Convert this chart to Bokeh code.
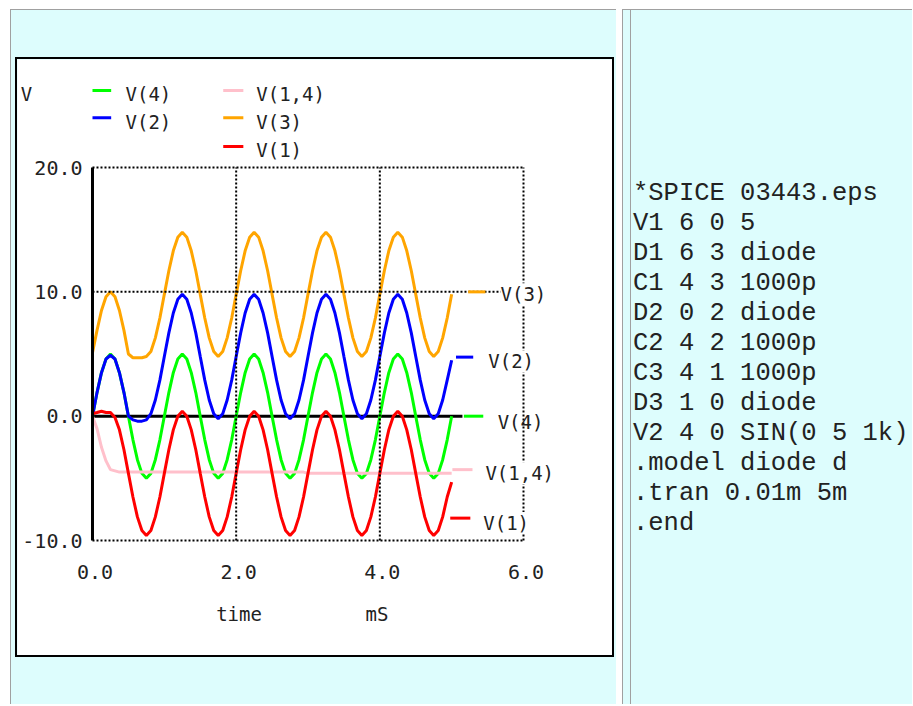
from bokeh.plotting import figure
from bokeh.models import Range1d, Label, Div
from bokeh.layouts import row, column
from bokeh.core.properties import value
from bokeh.embed import file_html
from bokeh.resources import INLINE

# ---------------- data ----------------
t_ms = [
    0.000, 0.063, 0.125, 0.188, 0.250, 0.313, 0.375, 0.438, 0.500, 0.563, 0.625, 0.688, 0.750, 0.813, 0.875, 0.938,
    1.000, 1.063, 1.125, 1.188, 1.250, 1.313, 1.375, 1.438, 1.500, 1.563, 1.625, 1.688, 1.750, 1.813, 1.875, 1.938,
    2.000, 2.063, 2.125, 2.188, 2.250, 2.313, 2.375, 2.438, 2.500, 2.563, 2.625, 2.688, 2.750, 2.813, 2.875, 2.938,
    3.000, 3.063, 3.125, 3.188, 3.250, 3.313, 3.375, 3.438, 3.500, 3.563, 3.625, 3.688, 3.750, 3.813, 3.875, 3.938,
    4.000, 4.063, 4.125, 4.188, 4.250, 4.313, 4.375, 4.438, 4.500, 4.563, 4.625, 4.688, 4.750, 4.813, 4.875, 4.938,
    5.000,
]

v4 = [
    0.0, 1.9, 3.5, 4.6, 5.0, 4.6, 3.5, 1.9, 0.0, -1.9, -3.5, -4.6, -5.0, -4.6, -3.5, -1.9,
    0.0, 1.9, 3.5, 4.6, 5.0, 4.6, 3.5, 1.9, 0.0, -1.9, -3.5, -4.6, -5.0, -4.6, -3.5, -1.9,
    0.0, 1.9, 3.5, 4.6, 5.0, 4.6, 3.5, 1.9, 0.0, -1.9, -3.5, -4.6, -5.0, -4.6, -3.5, -1.9,
    0.0, 1.9, 3.5, 4.6, 5.0, 4.6, 3.5, 1.9, 0.0, -1.9, -3.5, -4.6, -5.0, -4.6, -3.5, -1.9,
    0.0, 1.9, 3.5, 4.6, 5.0, 4.6, 3.5, 1.9, 0.0, -1.9, -3.5, -4.6, -5.0, -4.6, -3.5, -1.9,
    0.0,
]

v2 = [
    0.0, 1.9, 3.5, 4.6, 4.9, 4.6, 3.5, 1.9, 0.0, -0.3, -0.4, -0.4, -0.3, 0.2, 1.3, 2.9,
    4.8, 6.7, 8.3, 9.4, 9.8, 9.4, 8.3, 6.7, 4.8, 2.9, 1.3, 0.2, -0.2, 0.2, 1.3, 2.9,
    4.8, 6.7, 8.3, 9.4, 9.8, 9.4, 8.3, 6.7, 4.8, 2.9, 1.3, 0.2, -0.2, 0.2, 1.3, 2.9,
    4.8, 6.7, 8.3, 9.4, 9.8, 9.4, 8.3, 6.7, 4.8, 2.9, 1.3, 0.2, -0.2, 0.2, 1.3, 2.9,
    4.8, 6.7, 8.3, 9.4, 9.8, 9.4, 8.3, 6.7, 4.8, 2.9, 1.3, 0.2, -0.2, 0.2, 1.3, 2.9,
    4.5,
]

v14 = [
    0.0, -1.0, -2.5, -3.6, -4.3, -4.4, -4.5, -4.5, -4.5, -4.5, -4.5, -4.5, -4.5, -4.5, -4.5, -4.5,
    -4.5, -4.5, -4.5, -4.5, -4.5, -4.5, -4.5, -4.5, -4.5, -4.5, -4.5, -4.5, -4.5, -4.5, -4.5, -4.5,
    -4.5, -4.5, -4.5, -4.5, -4.5, -4.5, -4.5, -4.5, -4.5, -4.5, -4.5, -4.5, -4.5, -4.5, -4.5, -4.5,
    -4.6, -4.6, -4.6, -4.6, -4.6, -4.6, -4.6, -4.6, -4.6, -4.6, -4.6, -4.6, -4.6, -4.6, -4.6, -4.6,
    -4.6, -4.6, -4.6, -4.6, -4.6, -4.6, -4.6, -4.6, -4.6, -4.6, -4.6, -4.6, -4.6, -4.6, -4.6, -4.6,
    -4.6,
]

v3 = [
    5.1, 6.9, 8.5, 9.6, 10.0, 9.6, 8.5, 6.9, 5.0, 4.7, 4.7, 4.7, 4.8, 5.2, 6.3, 7.9,
    9.8, 11.7, 13.3, 14.4, 14.8, 14.4, 13.3, 11.7, 9.8, 7.9, 6.3, 5.2, 4.8, 5.2, 6.3, 7.9,
    9.8, 11.7, 13.3, 14.4, 14.8, 14.4, 13.3, 11.7, 9.8, 7.9, 6.3, 5.2, 4.8, 5.2, 6.3, 7.9,
    9.8, 11.7, 13.3, 14.4, 14.8, 14.4, 13.3, 11.7, 9.8, 7.9, 6.3, 5.2, 4.8, 5.2, 6.3, 7.9,
    9.8, 11.7, 13.3, 14.4, 14.8, 14.4, 13.3, 11.7, 9.8, 7.9, 6.3, 5.2, 4.8, 5.2, 6.3, 7.9,
    9.8,
]

v1 = [
    0.2, 0.3, 0.4, 0.3, 0.3, -0.1, -1.1, -2.7, -4.6, -6.5, -8.1, -9.2, -9.6, -9.2, -8.1, -6.5,
    -4.6, -2.7, -1.1, 0.0, 0.4, 0.0, -1.1, -2.7, -4.6, -6.5, -8.1, -9.2, -9.6, -9.2, -8.1, -6.5,
    -4.6, -2.7, -1.1, 0.0, 0.4, 0.0, -1.1, -2.7, -4.6, -6.5, -8.1, -9.2, -9.6, -9.2, -8.1, -6.5,
    -4.6, -2.7, -1.1, 0.0, 0.4, 0.0, -1.1, -2.7, -4.6, -6.5, -8.1, -9.2, -9.6, -9.2, -8.1, -6.5,
    -4.6, -2.7, -1.1, 0.0, 0.4, 0.0, -1.1, -2.7, -4.6, -6.5, -8.1, -9.2, -9.6, -9.2, -8.1, -6.5,
    -5.3,
]

series_names = ["V(4)", "V(2)", "V(1,4)", "V(3)", "V(1)"]
series_values = [v4, v2, v14, v3, v1]
series_colors = ["#00ff00", "#0000ff", "#ffc0cb", "#ffa500", "#ff0000"]

x_ticks = [0.0, 2.0, 4.0, 6.0]
y_ticks = [-10.0, 0.0, 10.0, 20.0]

netlist = [
    "*SPICE 03443.eps",
    "V1 6 0 5",
    "D1 6 3 diode",
    "C1 4 3 1000p",
    "D2 0 2 diode",
    "C2 4 2 1000p",
    "C3 4 1 1000p",
    "D3 1 0 diode",
    "V2 4 0 SIN(0 5 1k)",
    ".model diode d",
    ".tran 0.01m 5m",
    ".end",
]

# ---------------- styles ----------------
CYAN = "#ddfdfd"
FONT = "DejaVu Sans Mono"
FSIZE = "19px"
TXT = "#222222"

# the frame covers the whole white box so that every label lies inside it
p = figure(width=595, height=596,
           x_range=Range1d(-1.044, 7.239),
           y_range=Range1d(-19.25, 28.69),
           min_border_left=0, min_border_right=0, min_border_top=0, min_border_bottom=0,
           toolbar_location=None, output_backend="svg",
           background_fill_color="white", border_fill_color="white",
           margin=(49, 0, 0, 6))
p.styles = {"outline": "2px solid black"}
p.outline_line_color = None
p.grid.visible = False
p.xaxis.visible = False
p.yaxis.visible = False

# zero line (solid black)
p.line([x_ticks[0], 5.15], [0, 0], line_color="black", line_width=3)

# curves
for vals, col in zip(series_values, series_colors):
    p.line(t_ms, vals, line_color=col, line_width=3)

# dotted grid
p.segment(x0=[x_ticks[0]] * 3, y0=[y_ticks[3], y_ticks[2], y_ticks[0]],
          x1=[x_ticks[-1]] * 3, y1=[y_ticks[3], y_ticks[2], y_ticks[0]],
          line_color="black", line_width=2, line_dash="2 2")
p.segment(x0=x_ticks[1:], y0=[y_ticks[0]] * 3, x1=x_ticks[1:], y1=[y_ticks[-1]] * 3,
          line_color="black", line_width=2, line_dash="2 2")
# left solid axis
p.line([0, 0], [y_ticks[0], y_ticks[-1]], line_color="black", line_width=3)

# tick labels
p.text(x=[v + 0.035 for v in x_ticks], y=[y_ticks[0] - 2.53] * len(x_ticks),
       text=["%.1f" % v for v in x_ticks],
       text_font=value(FONT), text_font_size=value("20px"), text_color=TXT,
       text_align="center", text_baseline="middle")
p.text(x=[-0.139] * len(y_ticks), y=y_ticks,
       text=["%.1f" % v for v in y_ticks],
       text_font=value(FONT), text_font_size=value("20px"), text_color=TXT,
       text_align="right", text_baseline="middle")


def lab(x, y, text, align="left", bg=None):
    kw = dict(x=x, y=y, text=text, text_font=FONT, text_font_size=FSIZE,
              text_color=TXT, text_align=align, text_baseline="middle")
    if bg:
        kw["background_fill_color"] = bg
    p.add_layout(Label(**kw))


# end-of-trace labels (order: V(4), V(2), V(1,4), V(3), V(1))
end_marks = [(5.17, 5.44, 0.0), (5.06, 5.30, 4.75), (5.01, 5.29, -4.3), (5.23, 5.47, 10.0), (4.98, 5.26, -8.2)]
end_text = [(5.64, -0.5, None), (5.51, 4.4, "white"), (5.47, -4.6, "white"), (5.68, 9.8, "white"), (5.44, -8.6, "white")]
for name, col, (a, b, yv), (tx, ty, bg) in zip(series_names, series_colors, end_marks, end_text):
    lab(tx, ty, name, bg=bg)
    p.segment(x0=[a], y0=[yv], x1=[b], y1=[yv], line_color=col, line_width=3)

# top legend
leg_marks = [(0.0, 0.26, 26.2), (0.0, 0.26, 24.0), (1.82, 2.10, 26.2), (1.82, 2.10, 24.0), (1.82, 2.10, 21.7)]
leg_text = [(0.46, 25.9), (0.46, 23.7), (2.28, 25.9), (2.28, 23.7), (2.28, 21.4)]
for name, col, (a, b, yv), (tx, ty) in zip(series_names, series_colors, leg_marks, leg_text):
    p.segment(x0=[a], y0=[yv], x1=[b], y1=[yv], line_color=col, line_width=3)
    lab(tx, ty, name)

lab(-1.0, 25.9, "V")
lab(2.04, -15.9, "time", align="center")
lab(3.96, -15.95, "mS", align="center")

left = column(p, width=606, height=695, margin=(9, 0, 0, 10),
              styles={"background-color": CYAN, "border-left": "1px solid #a0a0a0",
                      "border-top": "1px solid #a0a0a0", "box-sizing": "border-box"})

html = ("<div style='height:695px;border-left:1px solid #a0a0a0;margin-left:7px;background:%s;'>"
        "<pre style='margin:0;padding-top:169px;padding-left:2px;font-family:\"Liberation Mono\",monospace;"
        "font-size:25.5px;line-height:30px;color:#222;white-space:pre;'>%s</pre></div>") % (CYAN, "\n".join(netlist))
right = Div(text=html, width=290, height=695, margin=(9, 0, 0, 6),
            styles={"background-color": CYAN, "border-left": "1px solid #a0a0a0",
                    "border-top": "1px solid #a0a0a0", "overflow": "hidden", "box-sizing": "border-box"})

layout = row(left, right)
open("out.html", "w").write(file_html(layout, INLINE))
